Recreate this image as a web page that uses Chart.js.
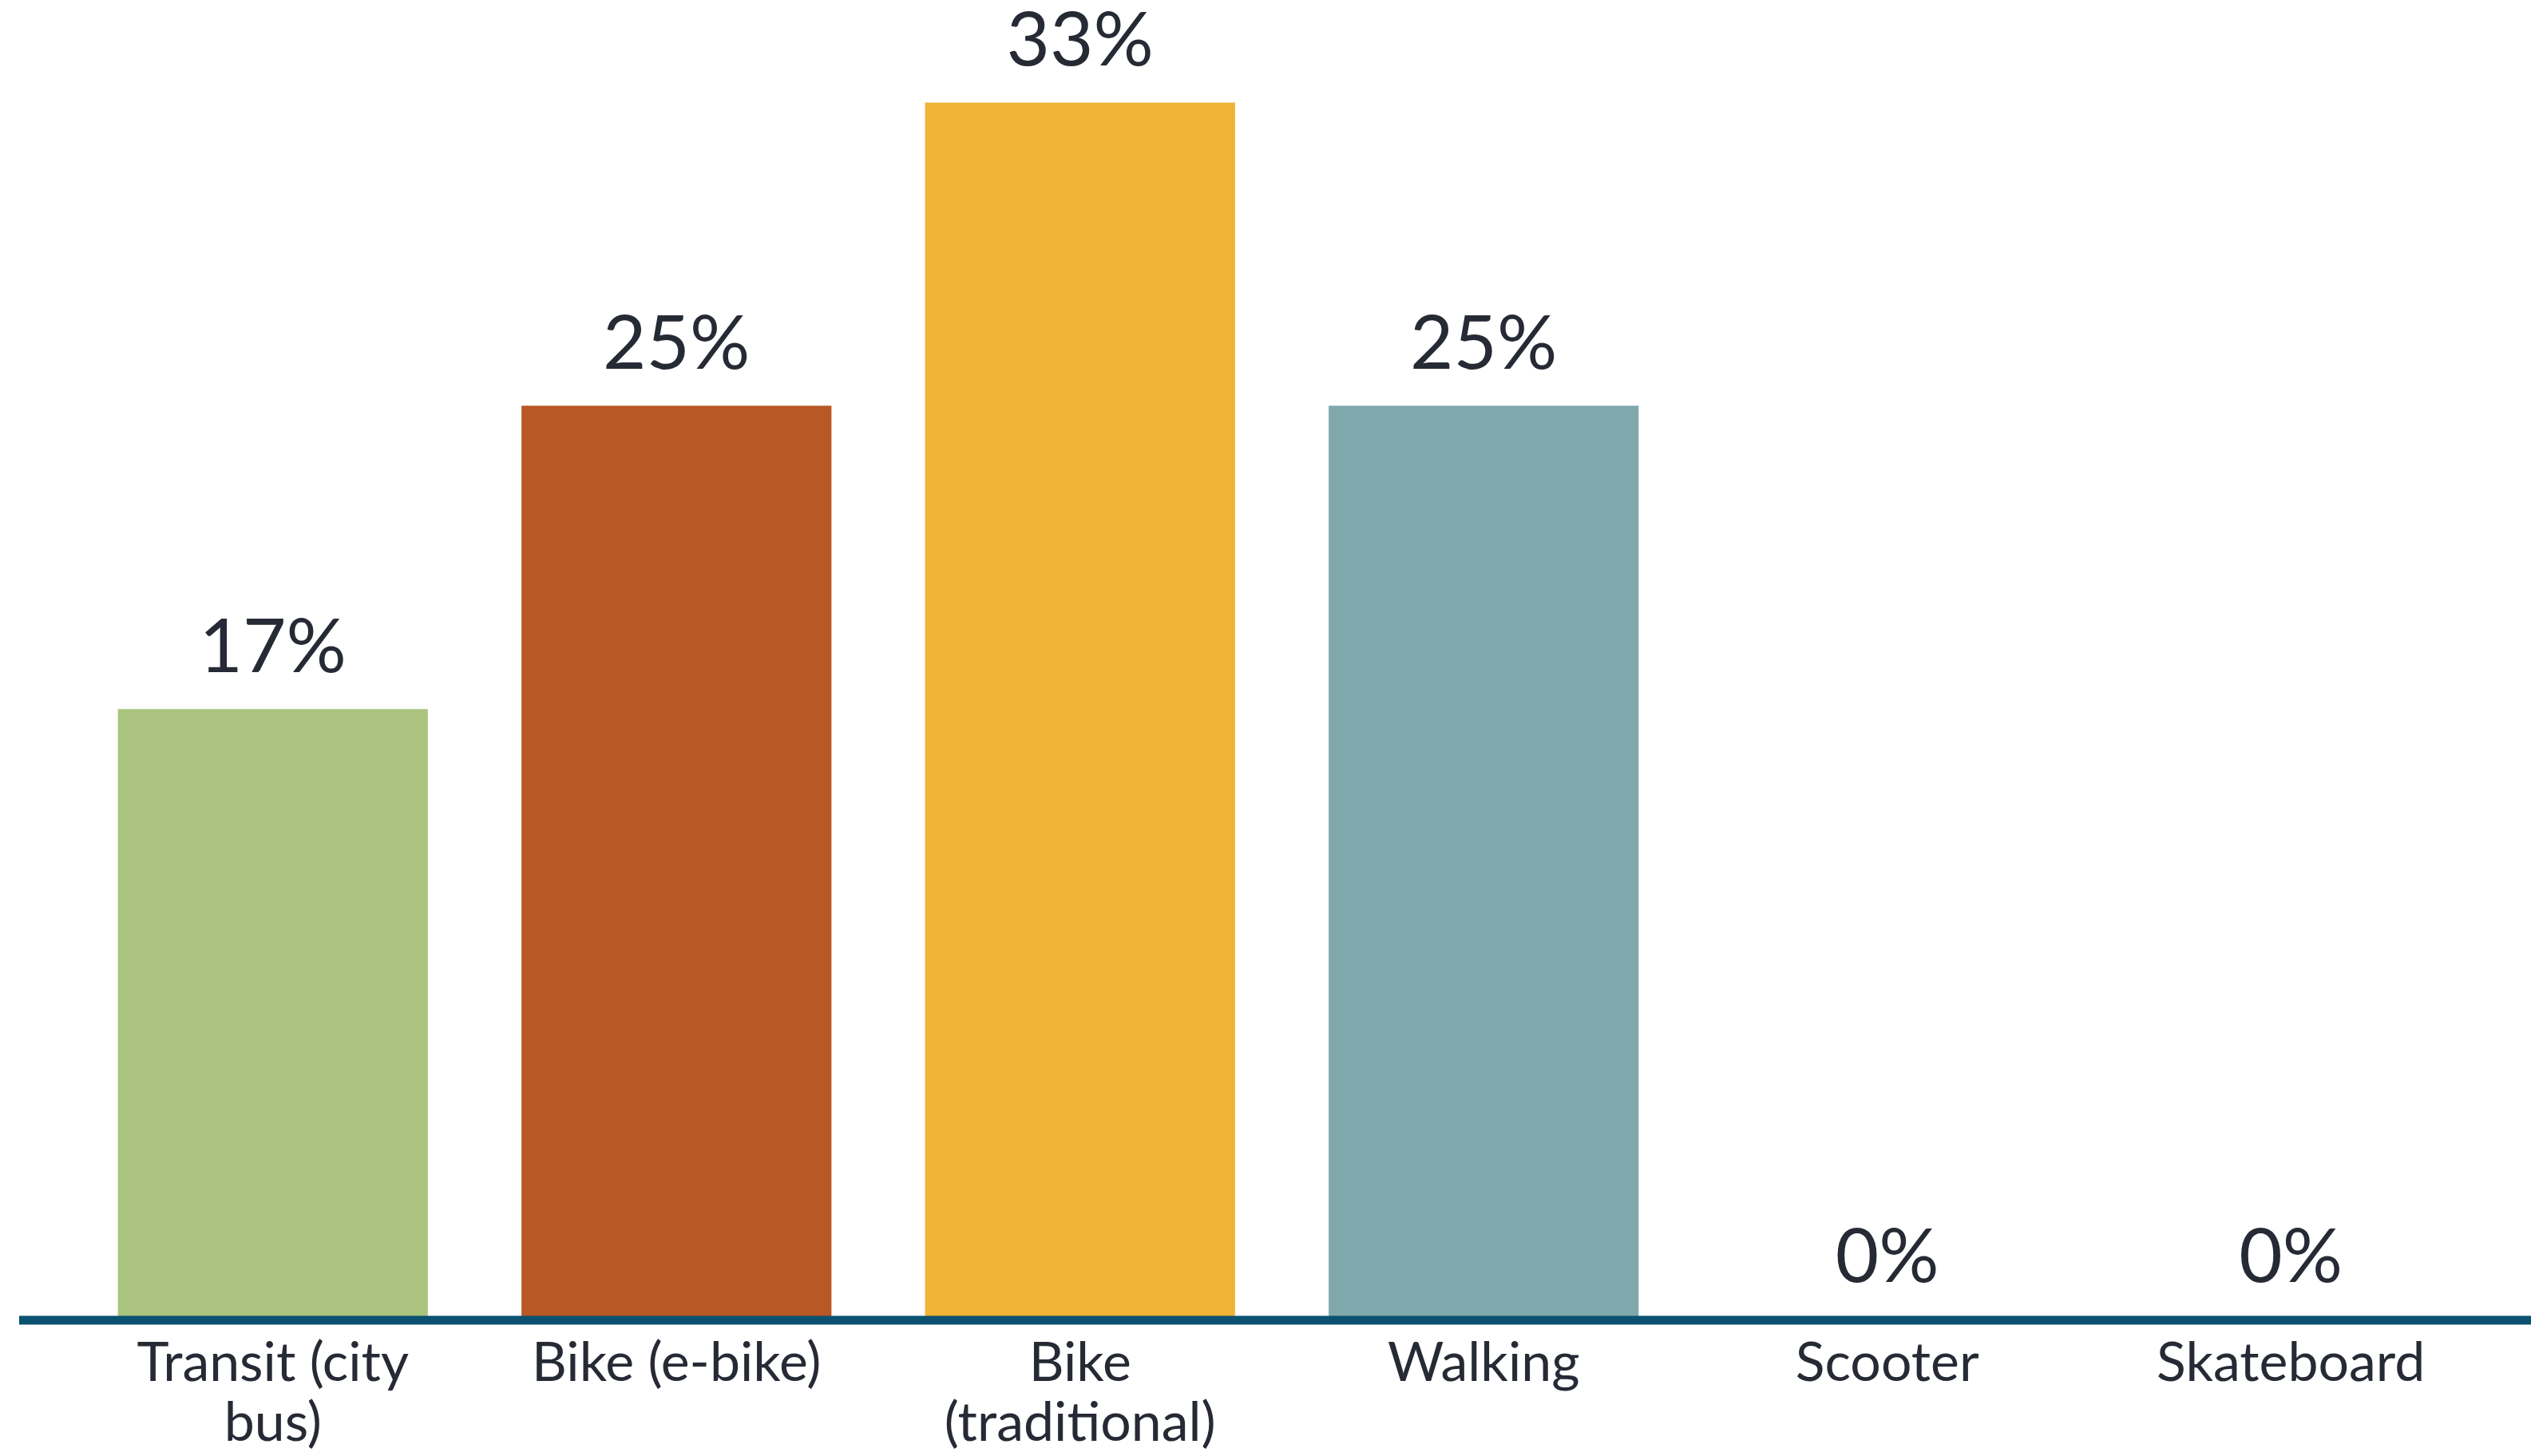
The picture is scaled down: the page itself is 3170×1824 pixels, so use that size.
<!DOCTYPE html>
<html>
<head>
<meta charset="utf-8">
<script src="https://cdn.jsdelivr.net/npm/chart.js@4.4.1/dist/chart.umd.min.js"></script>
<style>
  html, body { margin: 0; padding: 0; background: #ffffff; }
  #wrap { width: 3170px; height: 1824px; }
</style>
</head>
<body>
<div id="wrap"><canvas id="modeChart" width="3170" height="1824"></canvas></div>
<script>
// categories and values (share of respondents, %)
const categories = [['Transit (city', 'bus)'], 'Bike (e-bike)', ['Bike', '(traditional)'], 'Walking', 'Scooter', 'Skateboard'];
const shares = [16.7, 25, 33.3, 25, 0, 0];
const barColors = ['#aac47f', '#b85824', '#efb335', '#80a9ad', '#cccccc', '#cccccc'];

const textColor = '#262a35';
const fontFamily = 'Lato, "Noto Sans", sans-serif';

// percentage labels above each bar
const valueLabels = {
  id: 'valueLabels',
  afterDatasetsDraw(chart) {
    const ctx = chart.ctx;
    const meta = chart.getDatasetMeta(0);
    ctx.save();
    ctx.fillStyle = textColor;
    ctx.font = '94px ' + fontFamily;
    ctx.textAlign = 'center';
    ctx.textBaseline = 'bottom';
    meta.data.forEach((bar, i) => {
      ctx.fillText(Math.round(shares[i]) + '%', bar.x, bar.y - 30);
    });
    ctx.restore();
  }
};

// thick baseline running across the whole width
const baseLine = {
  id: 'baseLine',
  afterDatasetsDraw(chart) {
    const ctx = chart.ctx;
    const y = chart.scales.y.getPixelForValue(0);
    ctx.save();
    ctx.fillStyle = '#0b5270';
    ctx.fillRect(24, y - 4, chart.width - 24, 11);
    ctx.restore();
  }
};

new Chart(document.getElementById('modeChart'), {
  type: 'bar',
  data: {
    labels: categories,
    datasets: [{
      data: shares,
      backgroundColor: barColors,
      borderWidth: 0,
      categoryPercentage: 0.8,
      barPercentage: 0.96
    }]
  },
  options: {
    responsive: false,
    animation: false,
    layout: { padding: { left: 89, right: 48, top: 5, bottom: -6 } },
    plugins: {
      legend: { display: false },
      tooltip: { enabled: false }
    },
    scales: {
      x: {
        grid: { display: false },
        border: { display: false },
        ticks: {
          color: textColor,
          padding: 10,
          maxRotation: 0,
          autoSkip: false,
          font: { family: fontFamily, size: 68, lineHeight: 1.1 }
        }
      },
      y: {
        display: false,
        min: 0,
        max: 36
      }
    }
  },
  plugins: [valueLabels, baseLine]
});
</script>
</body>
</html>
